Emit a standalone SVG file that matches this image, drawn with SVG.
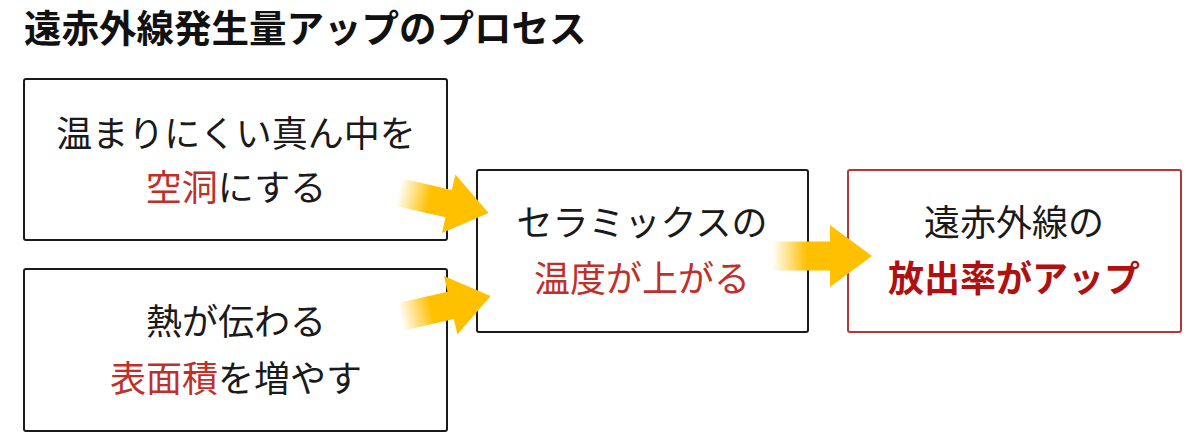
<svg xmlns="http://www.w3.org/2000/svg" width="1200" height="448" viewBox="0 0 1200 448">
<style>
text{font-family:"Noto Sans CJK JP","Noto Sans",sans-serif;font-size:36px;fill:#1a1a1a;text-anchor:middle}
.title{font-size:37.5px;font-weight:bold;text-anchor:start;fill:#111}
.red{fill:#c0302a}
.bred{fill:#b01010;font-weight:bold}
.box{fill:#fff;stroke:#1a1a1a;stroke-width:2}
.rbox{fill:#fff;stroke:#b03a3a;stroke-width:2}
</style>
<defs>
<linearGradient id="fade" x1="0" y1="0" x2="1" y2="0">
<stop offset="0" stop-color="#FFC000" stop-opacity="0"/>
<stop offset="0.35" stop-color="#FFC000" stop-opacity="1"/>
<stop offset="1" stop-color="#FFC000"/>
</linearGradient>
<path id="arr" d="M0,-14 L52,-14 L52,-30 L93,0 L52,30 L52,14 L0,14 Z"/>
</defs>
<text class="title" x="24" y="42">遠赤外線発生量アップのプロセス</text>
<g id="node1">
<rect class="box" x="24" y="79" width="423" height="161" rx="2"/>
<text x="236" y="147">温まりにくい真ん中を</text>
<text x="236" y="201"><tspan class="red">空洞</tspan>にする</text>
</g>
<g id="node2">
<rect class="box" x="24" y="269" width="423" height="162" rx="2"/>
<text x="236" y="335">熱が伝わる</text>
<text x="236" y="392"><tspan class="red">表面積</tspan>を増やす</text>
</g>
<g id="node3">
<rect class="box" x="477" y="170" width="331" height="162" rx="2"/>
<text x="642" y="236">セラミックスの</text>
<text x="642" y="292" class="red">温度が上がる</text>
</g>
<g id="node4">
<rect class="rbox" x="848" y="170" width="333" height="162" rx="2"/>
<text x="1014" y="236">遠赤外線の</text>
<text x="1014" y="292" class="bred">放出率がアップ</text>
</g>
<g id="connectors" fill="url(#fade)">
<use href="#arr" transform="translate(398,192) rotate(13)"/>
<use href="#arr" transform="translate(400,317) rotate(-13)"/>
<path d="M772,241.5 L830,241.5 L830,225 L872,256 L830,287 L830,270.5 L772,270.5 Z"/>
</g>
</svg>
